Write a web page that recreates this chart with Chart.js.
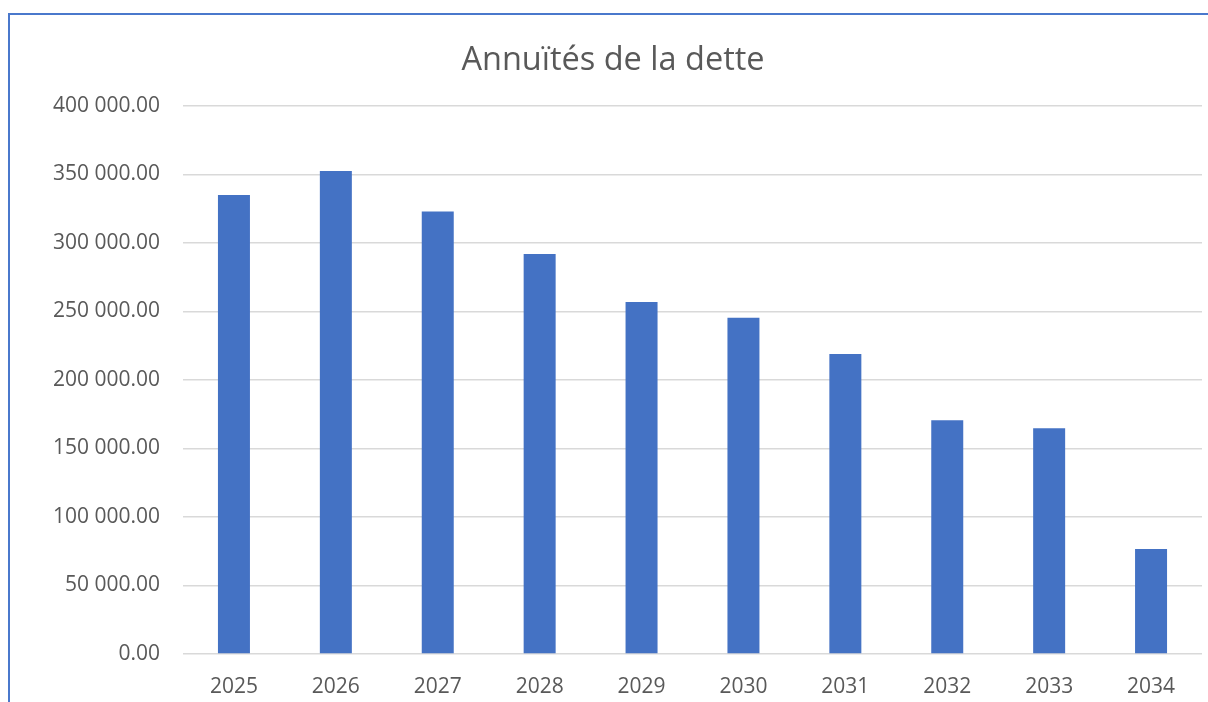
<!DOCTYPE html>
<html lang="fr">
<head>
<meta charset="utf-8">
<title>Annuités de la dette</title>
<script src="https://cdn.jsdelivr.net/npm/chart.js@4/dist/chart.umd.min.js"></script>
<style>
  html, body { margin: 0; padding: 0; background: #fff; overflow: hidden; }
  #wrap { position: relative; width: 1208px; height: 702px; }
  #frame {
    position: absolute; left: 8px; top: 13px; width: 1300px; height: 800px;
    border-left: 2px solid #4a78cc; border-top: 2px solid #4a78cc;
    pointer-events: none;
  }
</style>
</head>
<body>
<div id="wrap">
  <canvas id="chart" width="1208" height="702"></canvas>
  <div id="frame"></div>
</div>
<script>
const YEARS = ["2025", "2026", "2027", "2028", "2029", "2030", "2031", "2032", "2033", "2034"];
const ANNUITES = [335000, 352500, 323000, 292000, 257000, 245500, 219000, 170600, 164800, 76700];
const Y_MAX = 400000;
const Y_STEP = 50000;

const TEXT_COLOR = "#595959";
const FONT = "'Open Sans', 'Noto Sans', sans-serif";

function formatAmount(value) {
  const [int, dec] = Number(value).toFixed(2).split(".");
  return int.replace(/\B(?=(\d{3})+(?!\d))/g, " ") + "." + dec;
}

new Chart(document.getElementById("chart"), {
  type: "bar",
  data: {
    labels: YEARS,
    datasets: [
      {
        label: "Annuités",
        data: ANNUITES,
        backgroundColor: "#4472c4",
        borderWidth: 0,
        categoryPercentage: 1,
        barPercentage: 0.314,
      },
    ],
  },
  options: {
    responsive: false,
    animation: false,
    layout: {
      padding: { left: 24, right: 6, top: 0, bottom: 4 },
    },
    scales: {
      x: {
        afterFit(scale) {
          scale.height = 44;
        },
        grid: { display: false, drawTicks: false },
        border: { display: false },
        ticks: {
          color: TEXT_COLOR,
          font: { family: FONT, size: 21 },
          padding: 20,
          maxRotation: 0,
        },
      },
      y: {
        min: 0,
        max: Y_MAX,
        afterFit(scale) {
          scale.width = 159;
        },
        grid: { color: "#d9d9d9", lineWidth: 1.5, drawTicks: false },
        border: { display: false },
        ticks: {
          stepSize: Y_STEP,
          color: TEXT_COLOR,
          font: { family: FONT, size: 21 },
          padding: 23,
          callback(value) {
            return formatAmount(value);
          },
        },
      },
    },
    plugins: {
      legend: { display: false },
      tooltip: { enabled: false },
      title: {
        display: true,
        text: "Annuïtés de la dette",
        color: TEXT_COLOR,
        font: { family: FONT, size: 32.5, weight: "normal" },
        padding: { top: 41, bottom: 26 },
      },
    },
  },
});
</script>
</body>
</html>
